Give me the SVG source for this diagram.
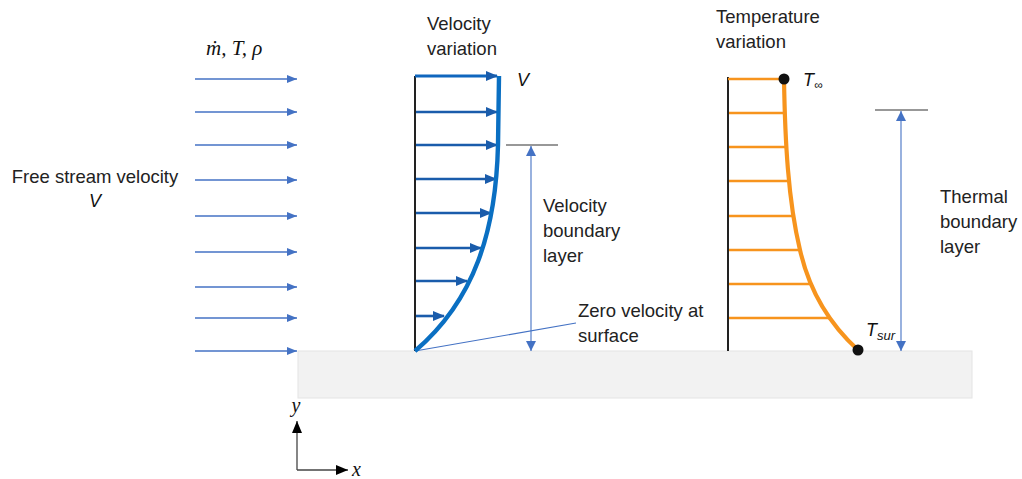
<svg xmlns="http://www.w3.org/2000/svg" width="1022" height="479" viewBox="0 0 1022 479">
<style>
.t{font-family:"Liberation Sans",Arial,sans-serif;font-size:18.5px;fill:#222}
.i{font-family:"Liberation Sans",Arial,sans-serif;font-style:italic;font-size:18px;fill:#111}
.m{font-family:"Liberation Serif","Times New Roman",serif;font-style:italic;fill:#111}
.fs{stroke:#4472C4;stroke-width:1.3;fill:none}
.va{stroke:#1A5CAB;stroke-width:2.6;fill:none}
.rung{stroke:#F7941D;stroke-width:2.5;fill:none}
.dim{stroke:#4472C4;stroke-width:1.1;fill:none}
.tick{stroke:#333;stroke-width:1.2}
</style>
<defs>
<marker id="aFs" markerWidth="10" markerHeight="8" refX="10" refY="4" orient="auto" markerUnits="userSpaceOnUse"><path d="M0,0 L10,4 L0,8 Z" fill="#4472C4"/></marker>
<marker id="aV" markerWidth="12" markerHeight="10" refX="11" refY="5" orient="auto" markerUnits="userSpaceOnUse"><path d="M0,0 L12,5 L0,10 Z" fill="#1A5CAB"/></marker>
<marker id="aD" markerWidth="10" markerHeight="10" refX="10" refY="5" orient="auto-start-reverse" markerUnits="userSpaceOnUse"><path d="M0,0 L10,5 L0,10 Z" fill="#4472C4"/></marker>
<marker id="aK" markerWidth="12" markerHeight="10" refX="12" refY="5" orient="auto" markerUnits="userSpaceOnUse"><path d="M0,0 L12,5 L0,10 Z" fill="#000"/></marker>
</defs>

<g id="surface"><rect x="298" y="351" width="674" height="47" fill="#F2F2F2" stroke="#E4E4E4" stroke-width="1"/></g>

<g id="free-stream">
<text class="m" x="206" y="55" style="font-size:21px">ṁ, T, ρ</text>
<text class="t" x="95" y="183" text-anchor="middle">Free stream velocity</text>
<text class="i" x="95" y="207" text-anchor="middle">V</text>
</g>

<g id="connectors">
<line class="fs" x1="195" y1="79" x2="297" y2="79" marker-end="url(#aFs)"/>
<line class="fs" x1="195" y1="112" x2="297" y2="112" marker-end="url(#aFs)"/>
<line class="fs" x1="195" y1="145" x2="297" y2="145" marker-end="url(#aFs)"/>
<line class="fs" x1="195" y1="180" x2="297" y2="180" marker-end="url(#aFs)"/>
<line class="fs" x1="195" y1="216" x2="297" y2="216" marker-end="url(#aFs)"/>
<line class="fs" x1="195" y1="252" x2="297" y2="252" marker-end="url(#aFs)"/>
<line class="fs" x1="195" y1="287" x2="297" y2="287" marker-end="url(#aFs)"/>
<line class="fs" x1="195" y1="318" x2="297" y2="318" marker-end="url(#aFs)"/>
<line class="fs" x1="195" y1="351" x2="297" y2="351" marker-end="url(#aFs)"/>

<line class="va" x1="415" y1="112" x2="497" y2="112" marker-end="url(#aV)"/>
<line class="va" x1="415" y1="145" x2="497" y2="145" marker-end="url(#aV)"/>
<line class="va" x1="415" y1="179" x2="496" y2="179" marker-end="url(#aV)"/>
<line class="va" x1="415" y1="213" x2="491" y2="213" marker-end="url(#aV)"/>
<line class="va" x1="415" y1="248" x2="481" y2="248" marker-end="url(#aV)"/>
<line class="va" x1="415" y1="281" x2="467" y2="281" marker-end="url(#aV)"/>
<line class="va" x1="415" y1="316" x2="444" y2="316" marker-end="url(#aV)"/>

<line class="tick" x1="506" y1="145" x2="558" y2="145"/>
<line class="dim" x1="531" y1="146" x2="531" y2="351" marker-start="url(#aD)" marker-end="url(#aD)"/>
<line class="dim" x1="415" y1="351" x2="576" y2="323"/>

<line class="tick" x1="875" y1="110" x2="928" y2="110"/>
<line class="dim" x1="901" y1="111" x2="901" y2="351" marker-start="url(#aD)" marker-end="url(#aD)"/>

<line x1="297" y1="470" x2="297" y2="421" stroke="#444" stroke-width="1.3" marker-end="url(#aK)"/>
<line x1="297" y1="470" x2="348" y2="470" stroke="#444" stroke-width="1.3" marker-end="url(#aK)"/>
</g>

<g id="velocity-profile">
<line x1="415" y1="76" x2="415" y2="351" stroke="#222" stroke-width="2"/>
<line x1="415" y1="76" x2="497" y2="76" stroke="#0F66BE" stroke-width="3.2" marker-end="url(#aV)"/>
<path d="M499,76 L498,145 C496,230 475,300 415,351" stroke="#0A6FC2" stroke-width="4.4" fill="none"/>
<text class="t" x="427" y="30">Velocity</text>
<text class="t" x="427" y="55">variation</text>
<text class="i" x="517" y="86">V</text>
</g>

<g id="velocity-boundary-layer">
<text class="t" x="543" y="212">Velocity</text>
<text class="t" x="543" y="237">boundary</text>
<text class="t" x="543" y="262">layer</text>
</g>

<g id="zero-velocity-label">
<text class="t" x="578" y="317">Zero velocity at</text>
<text class="t" x="578" y="342">surface</text>
</g>

<g id="temperature-profile">
<line x1="728" y1="77" x2="728" y2="351" stroke="#222" stroke-width="2"/>
<line class="rung" x1="728" y1="79" x2="784" y2="79"/>
<line class="rung" x1="729" y1="113" x2="785" y2="113"/>
<line class="rung" x1="729" y1="147" x2="786" y2="147"/>
<line class="rung" x1="729" y1="181" x2="789" y2="181"/>
<line class="rung" x1="729" y1="216" x2="793" y2="216"/>
<line class="rung" x1="729" y1="250" x2="800" y2="250"/>
<line class="rung" x1="729" y1="284" x2="811" y2="284"/>
<line class="rung" x1="729" y1="318" x2="829" y2="318"/>
<path d="M784,79 C785,140 788,200 800,250 C808,285 825,320 858,350" stroke="#F7941D" stroke-width="4.2" fill="none"/>
<circle cx="784" cy="79" r="5.5" fill="#111"/>
<circle cx="858" cy="350" r="5.5" fill="#111"/>
<text class="t" x="716" y="23">Temperature</text>
<text class="t" x="716" y="48">variation</text>
<text class="i" x="803" y="86">T<tspan font-size="12" dy="3">∞</tspan></text>
<text class="i" x="866" y="336">T<tspan font-size="13" dy="4">sur</tspan></text>
</g>

<g id="thermal-boundary-layer">
<text class="t" x="940" y="203">Thermal</text>
<text class="t" x="940" y="228">boundary</text>
<text class="t" x="940" y="253">layer</text>
</g>

<g id="axes">
<text class="m" x="296" y="412" text-anchor="middle" style="font-size:20px">y</text>
<text class="m" x="352" y="476" style="font-size:20px">x</text>
</g>
</svg>
